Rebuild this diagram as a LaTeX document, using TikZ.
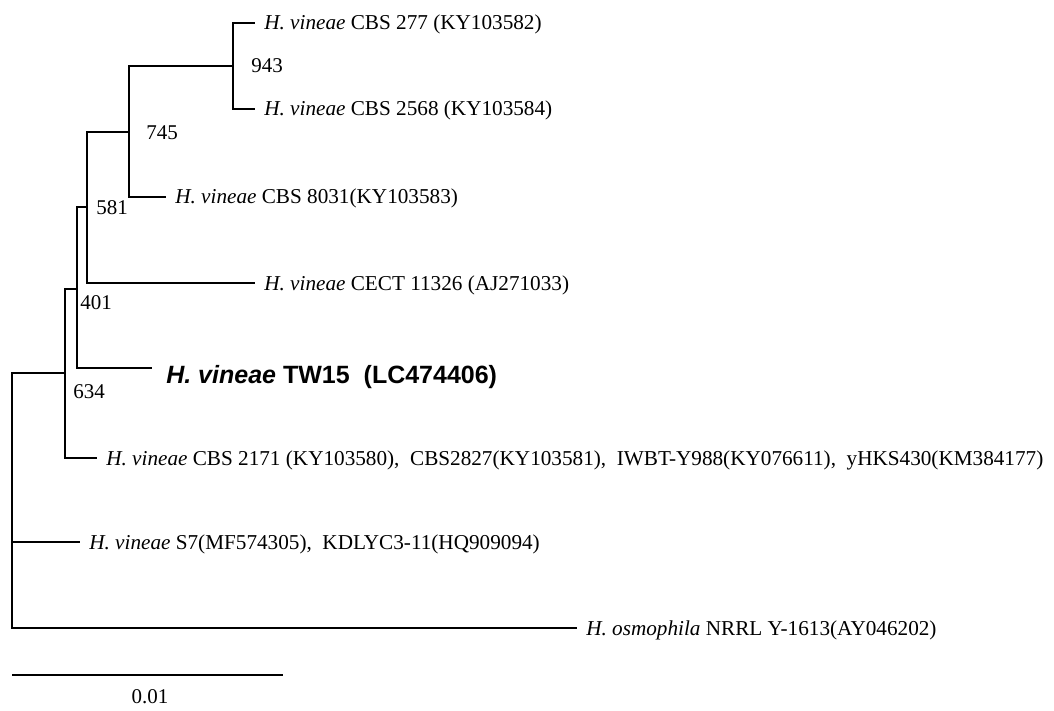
\documentclass[tikz,border=0pt]{standalone}
\usepackage{fontspec}
\setmainfont{Liberation Serif}
\newfontfamily\tagfont{Liberation Sans}

\begin{document}
\begin{tikzpicture}[x=1pt,y=-1pt,line width=2.6pt,
  taxon/.style={anchor=west,inner xsep=8pt,inner ysep=0pt,text height=16pt,text depth=2pt,font=\fontsize{21.2}{25}\selectfont},
  boot/.style={inner sep=0pt,font=\fontsize{21}{25}\selectfont}]
\useasboundingbox (0,0) rectangle (1054,711);

% internal nodes of the tree
\coordinate (root) at (12,500);
\coordinate (n634) at (65,373);
\coordinate (n401) at (77,289);
\coordinate (n581) at (87,207);
\coordinate (n745) at (129,132);
\coordinate (n943) at (233,66);

% taxa
\node[taxon] (l277) at (255,23) {\textit{H. vineae} CBS 277 (KY103582)};
\node[taxon] (l2568) at (255,109) {\textit{H. vineae} CBS 2568 (KY103584)};
\node[taxon] (l8031) at (166,197) {\textit{H. vineae} CBS 8031(KY103583)};
\node[taxon] (lcect) at (255,283) {\textit{H. vineae} CECT 11326 (AJ271033)};
\node[taxon,inner xsep=13pt,text height=32pt,text depth=2pt,font=\tagfont\bfseries\fontsize{25}{29}\selectfont] (ltw) at (152,368) {\textit{H. vineae} TW15\hspace{14pt}(LC474406)};
\node[taxon] (l2171) at (97,458) {\textit{H. vineae} CBS 2171 (KY103580),\ \ CBS2827(KY103581),\ \ IWBT-Y988(KY076611),\ \ yHKS430(KM384177)};
\node[taxon] (ls7) at (80,542) {\textit{H. vineae} S7(MF574305),\ \ KDLYC3-11(HQ909094)};
\node[taxon] (losm) at (577,628) {\textit{H. osmophila} NRRL Y-1613(AY046202)};

% branches
\draw (n943) |- (l277.west);
\draw (n943) |- (l2568.west);
\draw (n745) |- (n943);
\draw (n745) |- (l8031.west);
\draw (n581) |- (n745);
\draw (n581) |- (lcect.west);
\draw (n401) |- (n581);
\draw (n401) |- (ltw.west);
\draw (n634) |- (n401);
\draw (n634) |- (l2171.west);
\draw (root) |- (n634);
\draw (root) |- (ls7.west);
\draw (root) |- (losm.west);

% bootstrap values
\node[boot] (b943) at (267,66) {943};
\node[boot] (b745) at (162,133) {745};
\node[boot] (b581) at (112,208) {581};
\node[boot] (b401) at (96,303) {401};
\node[boot] (b634) at (89,392) {634};

% scale bar
\coordinate (sa) at (12,675);
\coordinate (sb) at (283,675);
\draw (sa) -- (sb);
\node[boot] (sl) at (150,697) {0.01};
\end{tikzpicture}
\end{document}
